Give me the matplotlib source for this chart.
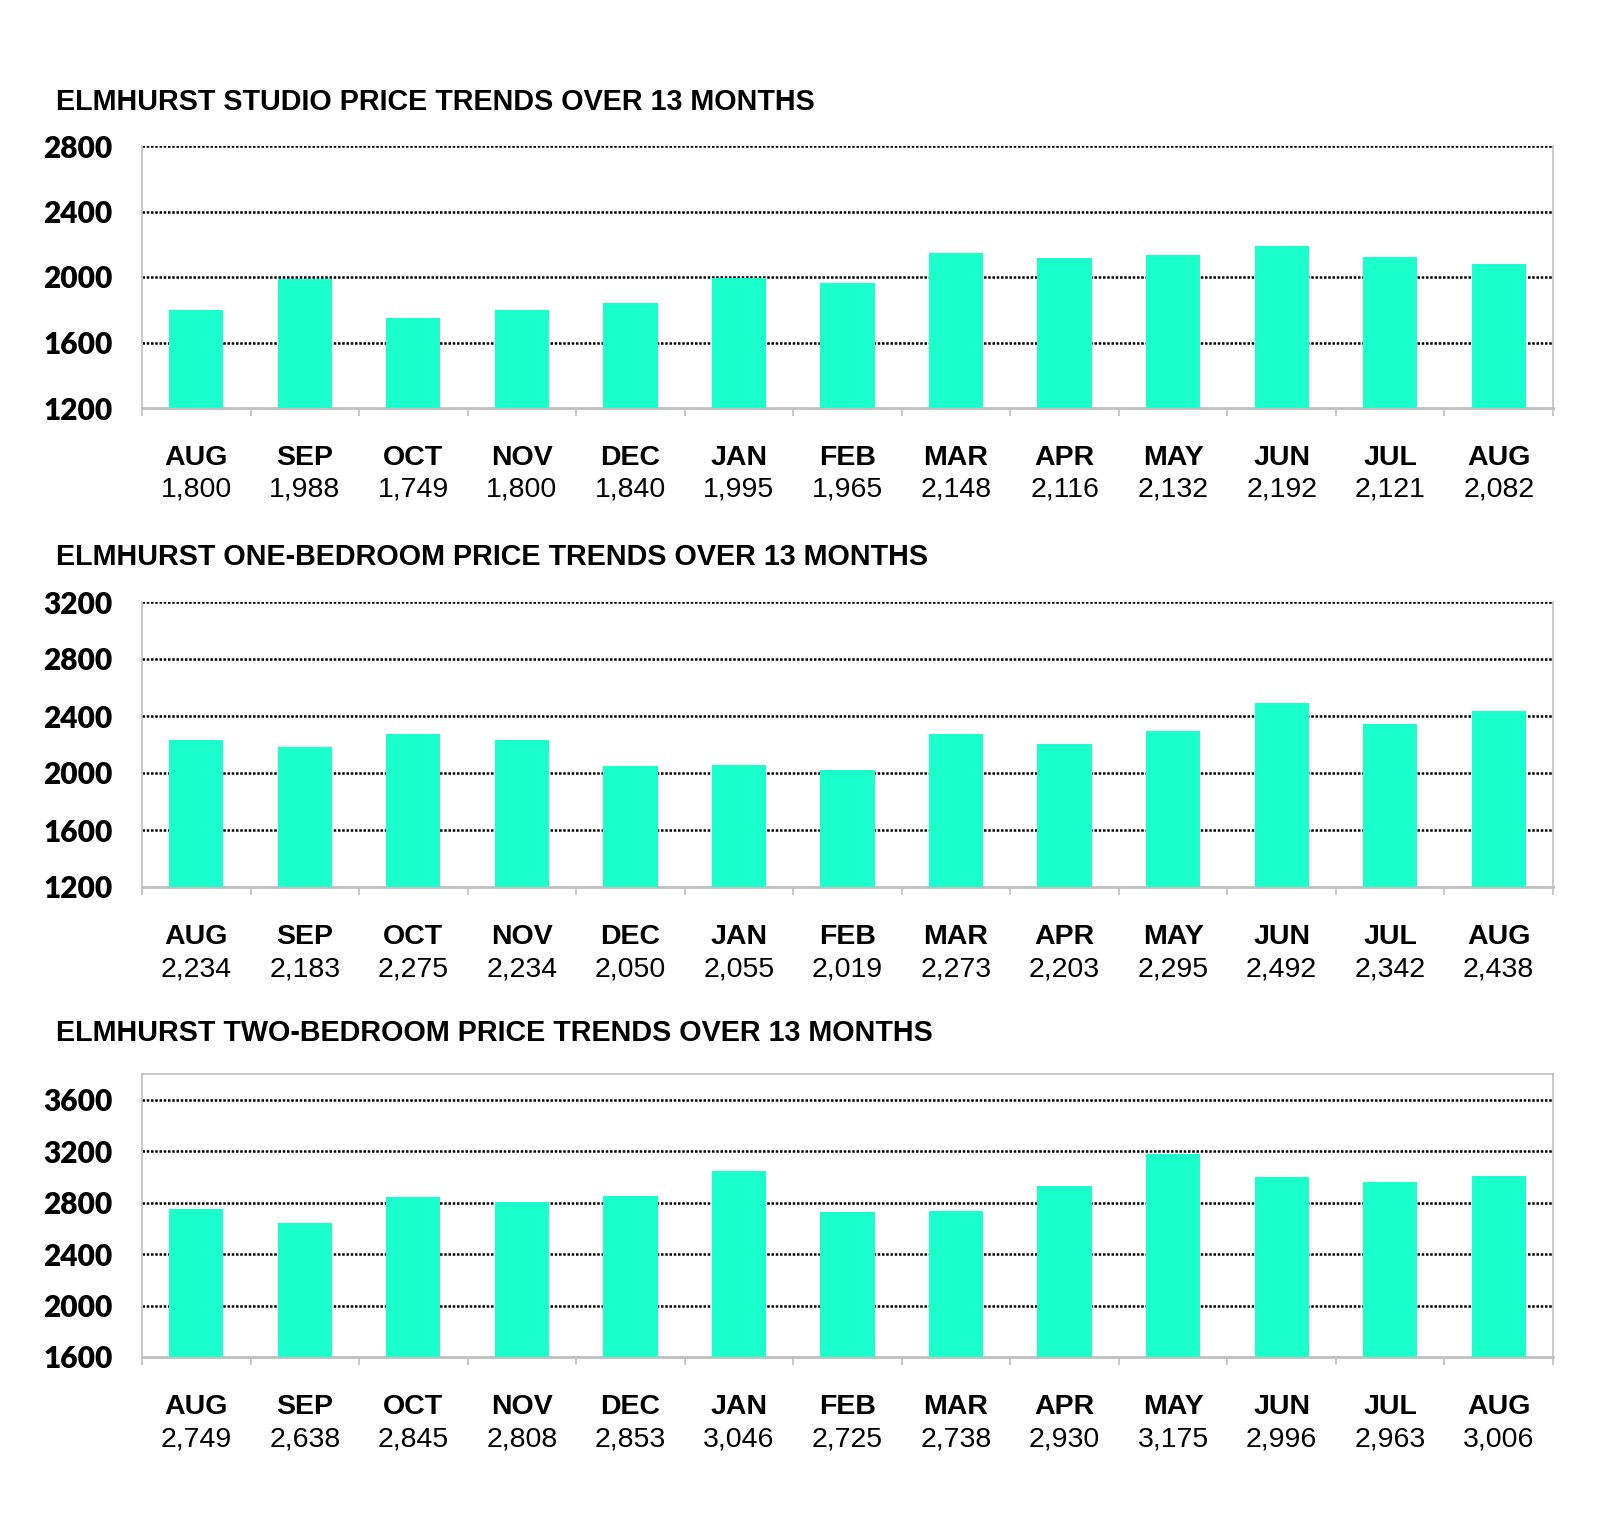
import matplotlib
matplotlib.use("Agg")
import matplotlib.pyplot as plt
import matplotlib.transforms as mtransforms
import numpy as np

months = ["AUG", "SEP", "OCT", "NOV", "DEC", "JAN", "FEB", "MAR", "APR", "MAY", "JUN", "JUL", "AUG"]
studio = [1800, 1988, 1749, 1800, 1840, 1995, 1965, 2148, 2116, 2132, 2192, 2121, 2082]
one_bed = [2234, 2183, 2275, 2234, 2050, 2055, 2019, 2273, 2203, 2295, 2492, 2342, 2438]
two_bed = [2749, 2638, 2845, 2808, 2853, 3046, 2725, 2738, 2930, 3175, 2996, 2963, 3006]

titles = ["ELMHURST STUDIO PRICE TRENDS OVER 13 MONTHS",
          "ELMHURST ONE-BEDROOM PRICE TRENDS OVER 13 MONTHS",
          "ELMHURST TWO-BEDROOM PRICE TRENDS OVER 13 MONTHS"]
series = [studio, one_bed, two_bed]
yticks = [[1200, 1600, 2000, 2400, 2800],
          [1200, 1600, 2000, 2400, 2800, 3200],
          [1600, 2000, 2400, 2800, 3200, 3600]]
ylims = [(1200, 2800), (1200, 3200), (1600, 3800)]

W, H = 1600, 1532
fig = plt.figure(figsize=(W / 100, H / 100), dpi=100)

# axes boxes in pixels: (top, bottom), title y
boxes = [(146, 408, 102), (602, 887, 557), (1074, 1357, 1033)]
left, right = 142, 1553
bar_color = "#1AFFCC"
spine_color = "#BFBFBF"

for i, (top, bottom, ty) in enumerate(boxes):
    ax = fig.add_axes([left / W, 1 - bottom / H, (right - left) / W, (bottom - top) / H])
    x = np.arange(len(months))
    ax.bar(x, series[i], width=0.5, color=bar_color, zorder=3)
    ax.set_xlim(-0.5, len(months) - 0.5)
    ax.set_ylim(*ylims[i])
    ax.set_yticks(yticks[i])
    ax.set_yticklabels([str(v) for v in yticks[i]], fontfamily="Lato",
                       fontweight="heavy", fontsize=21.5)
    ax.tick_params(axis="y", length=0, pad=21)
    for v in yticks[i]:
        if v != ylims[i][0]:
            ax.axhline(v, color="black", linestyle=(0, (1, 0.7)), linewidth=1.8, zorder=1)
    ax.set_xticks(np.arange(-0.5, len(months), 1.0))
    ax.set_xticklabels([])
    ax.tick_params(axis="x", length=6, width=1.2, color=spine_color, direction="out")
    for s in ["left", "right", "bottom"]:
        ax.spines[s].set_color(spine_color)
        ax.spines[s].set_linewidth(1.2)
    ax.spines["bottom"].set_linewidth(2)
    if i == 2:
        ax.spines["top"].set_color(spine_color)
        ax.spines["top"].set_linewidth(1.2)
    else:
        ax.spines["top"].set_visible(False)
    ax.set_facecolor("white")

    trans = mtransforms.blended_transform_factory(ax.transData, ax.transAxes)
    for j, (m, v) in enumerate(zip(months, series[i])):
        ax.text(j, 0, m, transform=trans + mtransforms.ScaledTranslation(0, -50 / 100, fig.dpi_scale_trans),
                ha="center", va="center", fontfamily="Liberation Sans", fontweight="bold",
                fontsize=20.5, color="black")
        ax.text(j, 0, f"{v:,}", transform=trans + mtransforms.ScaledTranslation(0, -82 / 100, fig.dpi_scale_trans),
                ha="center", va="center", fontfamily="Liberation Sans",
                fontsize=20.5, color="black")

    fig.text(56 / W, 1 - ty / H, titles[i], ha="left", va="center",
             fontfamily="Liberation Sans", fontweight="bold", fontsize=20.7, color="black")

fig.savefig("out.png", dpi=100, facecolor="white")
